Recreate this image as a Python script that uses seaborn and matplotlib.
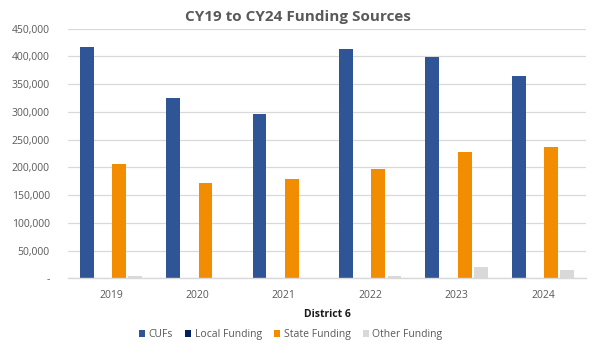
import matplotlib
matplotlib.use("Agg")
import matplotlib.pyplot as plt
import matplotlib.ticker as mticker
import pandas as pd
import seaborn as sns

years = ["2019", "2020", "2021", "2022", "2023", "2024"]
series = ["CUFs", "Local Funding", "State Funding", "Other Funding"]
cufs = [417000, 325000, 295500, 413500, 398000, 364500]
local_funding = [0, 0, 0, 0, 0, 0]
state_funding = [206500, 171500, 178500, 196500, 228500, 237500]
other_funding = [3600, 0, 1500, 3600, 21000, 16000]
colors = ["#2F5597", "#002060", "#F28C00", "#D9D9D9"]

df = pd.DataFrame({
    "Year": years * 4,
    "Source": sum([[s] * len(years) for s in series], []),
    "Amount": cufs + local_funding + state_funding + other_funding,
})

sns.set_theme(style="white")
plt.rcParams["font.family"] = ["Open Sans", "DejaVu Sans"]

fig = plt.figure(figsize=(6.0, 3.48), dpi=100)
ax = fig.add_axes([0.113, 0.2, 0.864, 0.718])

sns.barplot(data=df, x="Year", y="Amount", hue="Source", hue_order=series,
            palette=colors, saturation=1, width=0.75, gap=0.15, ax=ax,
            legend=True, edgecolor="none", linewidth=0)

ax.set_ylim(0, 450000)
ax.set_yticks(range(0, 450001, 50000))
ax.yaxis.set_major_formatter(mticker.FuncFormatter(
    lambda v, p: "-" if v == 0 else f"{int(v):,}"))
ax.grid(axis="y", color="#D9D9D9", linewidth=0.9)
ax.set_axisbelow(True)
for s in ["top", "right", "left"]:
    ax.spines[s].set_visible(False)
ax.spines["bottom"].set_color("#D9D9D9")
ax.spines["bottom"].set_linewidth(1.0)
ax.tick_params(axis="both", length=0, labelsize=7.5, labelcolor="#595959", pad=8)
ax.tick_params(axis="y", pad=13)
ax.set_ylabel("")
ax.set_xlabel("District 6", fontsize=7.5, fontweight="bold", color="#1a1a1a", labelpad=6)

fig.text(0.496, 0.95, "CY19 to CY24 Funding Sources", fontsize=11,
         fontweight="bold", color="#595959", ha="center", va="center")

handles, labels = ax.get_legend_handles_labels()
ax.legend(handles, labels, loc="upper center", bbox_to_anchor=(0.43, -0.165),
          ncol=4, frameon=False, fontsize=7.5, labelcolor="#595959",
          handlelength=0.6, handleheight=0.6, handletextpad=0.3, columnspacing=1.2)

fig.savefig("out.png", dpi=100, facecolor="white")
